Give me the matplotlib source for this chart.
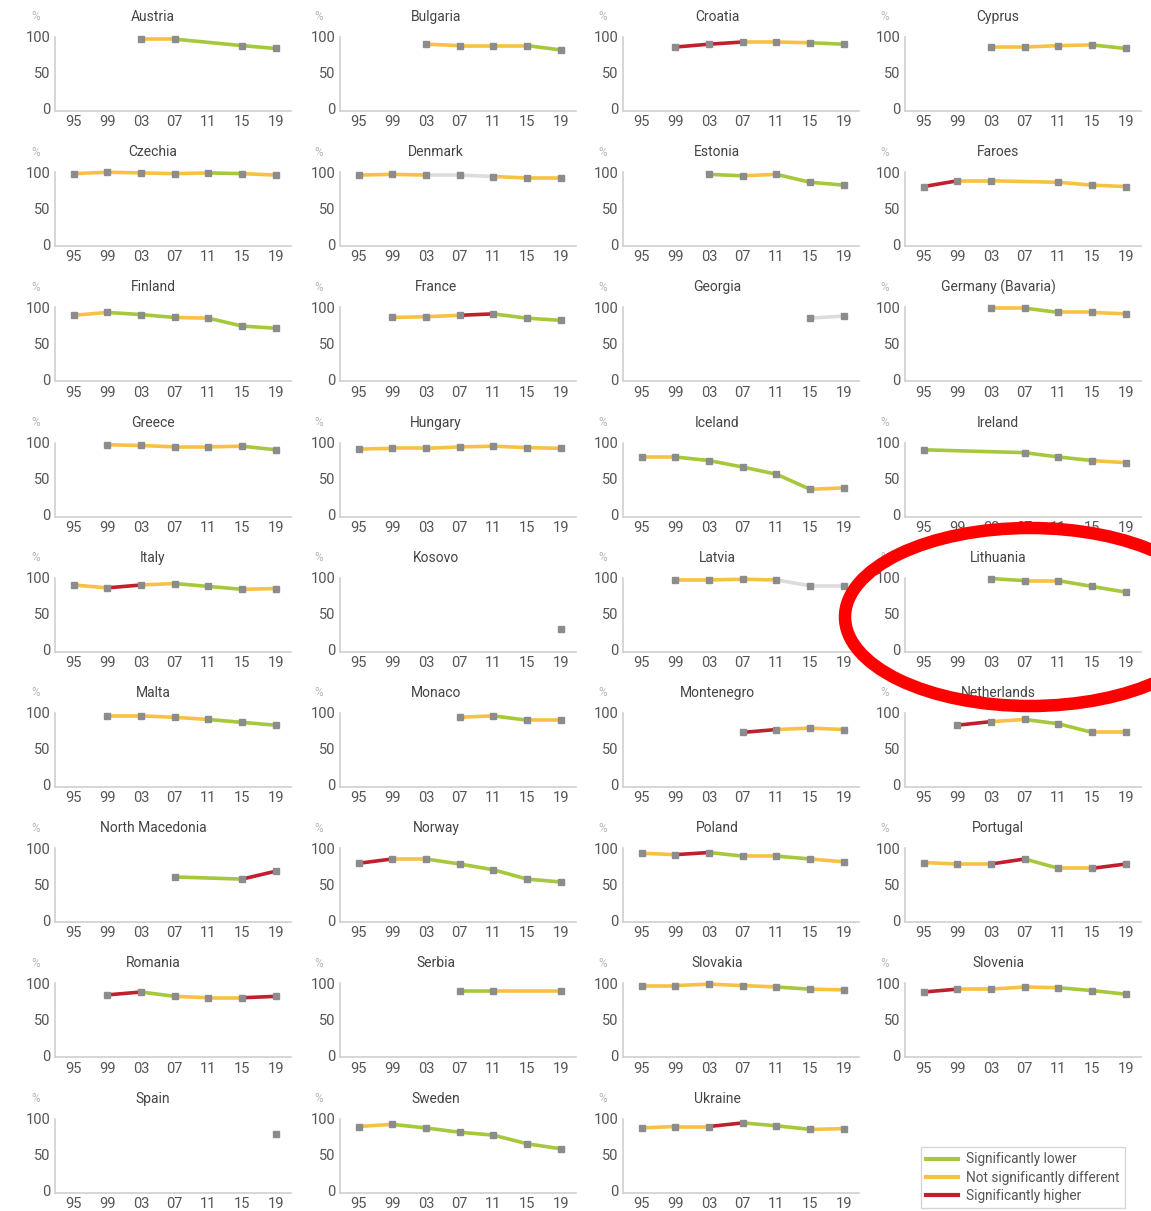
import matplotlib.pyplot as plt
from matplotlib.lines import Line2D
from matplotlib.patches import Ellipse

plt.rcParams['font.family'] = ['Roboto', 'DejaVu Sans']

years = ["95", "99", "03", "07", "11", "15", "19"]

countries = [
    "Austria", "Bulgaria", "Croatia", "Cyprus",
    "Czechia", "Denmark", "Estonia", "Faroes",
    "Finland", "France", "Georgia", "Germany (Bavaria)",
    "Greece", "Hungary", "Iceland", "Ireland",
    "Italy", "Kosovo", "Latvia", "Lithuania",
    "Malta", "Monaco", "Montenegro", "Netherlands",
    "North Macedonia", "Norway", "Poland", "Portugal",
    "Romania", "Serbia", "Slovakia", "Slovenia",
    "Spain", "Sweden", "Ukraine",
]

N = None
values = [
    [N, N, 97, 97, N, 88, 84],
    [N, N, 90, 88, 88, 88, 82],
    [N, 86, 90, 93, 93, 92, 90],
    [N, N, 86, 86, 88, 89, 84],
    [98, 100, 99, 98, 99, 98, 96],
    [96, 97, 96, 96, 94, 92, 92],
    [N, N, 97, 95, 97, 86, 82],
    [80, 88, 88, N, 86, 82, 80],
    [89, 93, 90, 86, 85, 74, 71],
    [N, 86, 87, 89, 91, 85, 82],
    [N, N, N, N, N, 85, 88],
    [N, N, 99, 99, 93, 93, 91],
    [N, 97, 96, 94, 94, 95, 90],
    [91, 92, 92, 94, 95, 93, 92],
    [80, 80, 75, 66, 56, 35, 37],
    [90, N, N, 86, 80, 75, 72],
    [90, 86, 90, 92, 88, 84, 85],
    [N, N, N, N, N, N, 29],
    [N, 97, 97, 98, 97, 89, 89],
    [N, N, 99, 96, 96, 88, 80],
    [N, 96, 96, 94, 91, 87, 83],
    [N, N, N, 94, 96, 90, 90],
    [N, N, N, 73, 77, 79, 77],
    [N, 83, 88, 91, 85, 73, 73],
    [N, N, N, 60, N, 57, 68],
    [79, 85, 85, 78, 70, 57, 53],
    [93, 91, 94, 89, 89, 85, 81],
    [80, 78, 78, 85, 72, 72, 78],
    [N, 84, 88, 82, 80, 80, 82],
    [N, N, N, 89, 89, N, 89],
    [97, 97, 99, 97, 95, 92, 91],
    [88, 92, 92, 95, 94, 90, 85],
    [N, N, N, N, N, N, 79],
    [89, 92, 87, 81, 77, 65, 58],
    [87, 89, 89, 94, 90, 85, 86],
]

# one letter per segment: L lower, N not different, H higher, X not tested
trends = [
    "NLL", "NNNL", "HHNNL", "NNNL",
    "NNNNLN", "NNXXNN", "LNLL", "HNNNN",
    "NLLNLL", "NNHLL", "X", "NLNN",
    "NNNNL", "NNNNNN", "NLLLLN", "LLLN",
    "NHNLLN", "", "NNNXX", "LNLL",
    "NNNLL", "NLN", "HNN", "HNLLN",
    "LH", "HNLLLL", "NHLNLN", "NNHLNH",
    "HLNNH", "LN", "NNNNLN", "HNNNLL",
    "", "NLLLLL", "NNHLLN",
]

trend_colors = {"L": "#a5c83c", "N": "#f7c244", "H": "#c0202e", "X": "#dcdcdc"}
legend_labels = ["Significantly lower", "Not significantly different", "Significantly higher"]

W, H = 1151, 1211
fig = plt.figure(figsize=(W / 100, H / 100), dpi=100)

col_left = [55, 340, 623, 905]
title_x = [153, 436, 717, 998]
pct_x = [36, 319, 603, 885]
ax_w, ax_h = 236, 74
row_step = 135.2

for i, name in enumerate(countries):
    r, c = divmod(i, 4)
    top = 37 + row_step * r
    ax = fig.add_axes([col_left[c] / W, 1 - (top + ax_h) / H, ax_w / W, ax_h / H])

    pts = [(x, v) for x, v in enumerate(values[i]) if v is not None]
    for k in range(len(pts) - 1):
        (x0, y0), (x1, y1) = pts[k], pts[k + 1]
        ax.plot([x0, x1], [y0, y1], color=trend_colors[trends[i][k]],
                lw=2.6, solid_capstyle="butt", clip_on=False, zorder=2)
    ax.plot([p[0] for p in pts], [p[1] for p in pts], "s", color="#8c8c8c",
            ms=5, clip_on=False, zorder=3)

    ax.set_xlim(-0.55, 6.45)
    ax.set_ylim(-3, 100)
    ax.set_xticks(range(len(years)))
    ax.set_xticklabels(years)
    ax.set_yticks([0, 50, 100])
    ax.tick_params(length=0, labelsize=10.5, colors="#555555", pad=3)
    for s in ["top", "right"]:
        ax.spines[s].set_visible(False)
    for s in ["left", "bottom"]:
        ax.spines[s].set_color("#d0d0d0")
        ax.spines[s].set_linewidth(1.2)

    fig.text(title_x[c] / W, 1 - (top - 20) / H, name, ha="center", va="center",
             fontsize=10, color="#444444")
    fig.text(pct_x[c] / W, 1 - (top - 20) / H, "%", ha="center", va="center",
             fontsize=8.5, color="#b5b5b5")

handles = [Line2D([], [], color=trend_colors[k], lw=3) for k in "LNH"]
fig.legend(handles, legend_labels, loc="upper left",
           bbox_to_anchor=(921 / W, 1 - 1147 / H), borderaxespad=0, fontsize=9.8,
           frameon=True, fancybox=False, edgecolor="#cccccc",
           handlelength=2.3, handletextpad=0.6, labelspacing=0.3, borderpad=0.4,
           labelcolor="#555555")

ring = Ellipse((1030 / W, 1 - 617 / H), 370 / W, 178 / H, transform=fig.transFigure,
               fill=False, edgecolor="#ff0000", lw=9, zorder=10)
fig.patches.append(ring)

fig.savefig("out.png", dpi=100)
